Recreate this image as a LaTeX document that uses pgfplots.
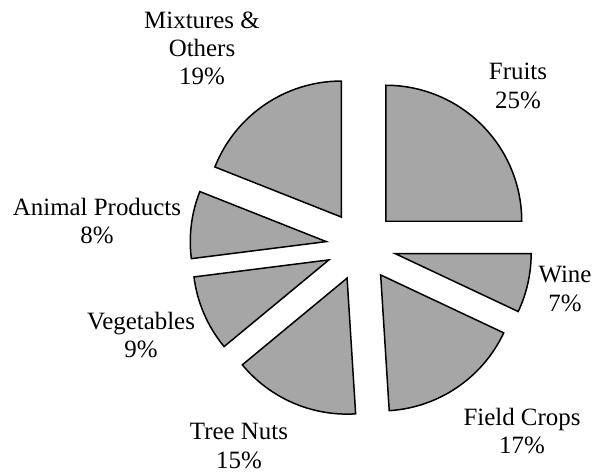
\documentclass[border=0pt]{standalone}
\usepackage{pgfplots}
\pgfplotsset{compat=1.18}
\usepackage{fontspec}
\setmainfont{Liberation Serif}
\begin{document}
\begin{tikzpicture}
\begin{axis}[
  width=595bp, height=472bp, scale only axis,
  xmin=0, xmax=595, ymin=0, ymax=472,
  axis lines=none, clip=false,
]
\path (axis cs:0,0) rectangle (axis cs:595,472);
\pgfmathsetmacro\start{90}
% shares in percent, clockwise from 12 o'clock:
% Fruits, Wine, Field Crops, Tree Nuts, Vegetables, Animal Products, Mixtures & Others
\pgfplotsforeachungrouped \p in {25,7,17,15,9,8,19} {
  \pgfmathsetmacro\en{\start-3.6*\p}
  \pgfmathsetmacro\mid{(\start+\en)/2}
  \pgfmathsetmacro\vx{361+35*cos(\mid)}
  \pgfmathsetmacro\vy{226+35*sin(\mid)}
  \edef\cmd{\noexpand\filldraw[fill=gray!70, draw=black, line width=1.5pt, line join=miter]
    (axis cs:\vx,\vy) -- ++(\start:136bp) arc[start angle=\start, end angle=\en, radius=136bp] -- cycle;}
  \cmd
  \global\let\start\en
}
\tikzset{lbl/.style={align=center, font=\fontsize{25}{28.3}\selectfont, inner sep=0pt}}
\node[lbl] at (axis cs:202,423.5) {Mixtures \&\\Others\\19\%};
\node[lbl] at (axis cs:518,386) {Fruits\\25\%};
\node[lbl] at (axis cs:565,183) {Wine\\7\%};
\node[lbl] at (axis cs:522,41) {Field Crops\\17\%};
\node[lbl] at (axis cs:239,26) {Tree Nuts\\15\%};
\node[lbl] at (axis cs:141,137) {Vegetables\\9\%};
\node[lbl] at (axis cs:97,251) {Animal Products\\8\%};
\end{axis}
\end{tikzpicture}
\end{document}
